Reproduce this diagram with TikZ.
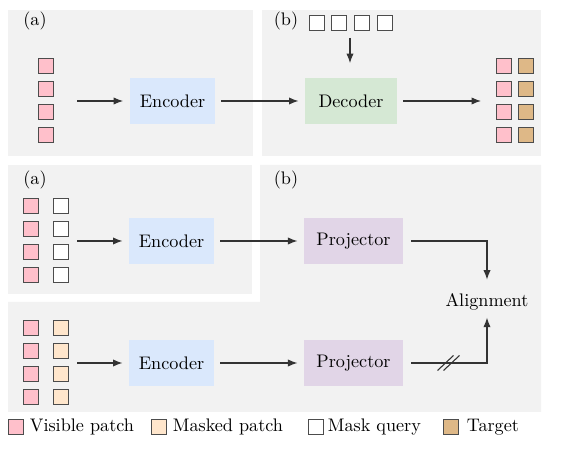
\documentclass[tikz,border=0pt]{standalone}
\usetikzlibrary{arrows.meta,calc}
\definecolor{panelgray}{HTML}{F2F2F2}
\definecolor{pinkc}{HTML}{FFC0CB}
\definecolor{peachc}{HTML}{FFE6CC}
\definecolor{tanc}{HTML}{DEB887}
\definecolor{encc}{HTML}{DAE8FC}
\definecolor{decc}{HTML}{D5E8D4}
\definecolor{projc}{HTML}{E1D5E7}
\begin{document}
\begin{tikzpicture}[x=0.55pt,y=-0.55pt,
  panel/.style={fill=panelgray, draw=none},
  patch/.style={draw=black!70, line width=0.55pt, minimum size=8.25pt, inner sep=0pt, outer sep=0pt},
  vis/.style={patch, fill=pinkc},
  msk/.style={patch, fill=peachc},
  qry/.style={patch, fill=white},
  tgt/.style={patch, fill=tanc},
  block/.style={minimum height=25.3pt, inner sep=0pt, outer sep=0pt},
  enc/.style={block, fill=encc, minimum width=46.75pt},
  dec/.style={block, fill=decc, minimum width=50.6pt},
  proj/.style={block, fill=projc, minimum width=54.5pt},
  arr/.style={-{Latex[length=5.2pt,width=4pt]}, draw=black!80, line width=0.6pt},
  gap/.style={shorten <=3.3pt, shorten >=3.6pt},
  lgd/.style={anchor=base west, inner sep=0pt}]
\useasboundingbox (0,0) rectangle (571,452);
% panels
\fill[panel] (8,10) rectangle (253,156);
\fill[panel] (262,10) rectangle (541,156);
\fill[panel] (8,165) rectangle (252,294);
\fill[panel] (260,165) -- (541,165) -- (541,412) -- (8,412) -- (8,302) -- (260,302) -- cycle;
% labels
\node (la1) at (35,21) {(a)};
\node (lb1) at (286,21) {(b)};
\node (la2) at (35,180) {(a)};
\node (lb2) at (286,180) {(b)};
% top row
\foreach \i in {0,...,3} {
  \node[vis] (ta\i) at (46,{66.5+22.7*\i}) {};
  \node[vis] (tp\i) at (503.5,{66.5+22.7*\i}) {};
  \node[tgt] (tt\i) at (525.5,{66.5+22.7*\i}) {};
  \node[qry] (q\i) at ({316.5+22.7*\i},23.5) {};
}
\node[enc] (enc1) at (172.5,101) {Encoder};
\node[dec] (dec) at (351,101) {Decoder};
\coordinate (s1) at (77,101);
\coordinate (e1) at (481,101);
\coordinate (qs) at (350,38);
\draw[arr, shorten >=3.8pt] (s1) -- (enc1);
\draw[arr, gap] (enc1) -- (dec);
\draw[arr, shorten <=3.3pt] (dec) -- (e1);
\draw[arr, shorten >=8.2pt] (qs) -- (qs |- dec.north);
% middle row
\foreach \i in {0,...,3} {
  \node[vis] (ma\i) at (31,{206.5+22.7*\i}) {};
  \node[qry] (mq\i) at (61,{206.5+22.7*\i}) {};
  \node[vis] (ba\i) at (31,{328.5+22.7*\i}) {};
  \node[msk] (bm\i) at (61,{328.5+22.7*\i}) {};
}
\node[enc] (enc2) at (171.5,241) {Encoder};
\node[proj] (proj1) at (353.5,241) {Projector};
\coordinate (s2) at (77,241);
\draw[arr, shorten >=3.6pt] (s2) -- (enc2);
\draw[arr, gap] (enc2) -- (proj1);
% bottom row
\node[enc] (enc3) at (171.5,363) {Encoder};
\node[proj] (proj2) at (353.5,363) {Projector};
\coordinate (s3) at (77,363);
\draw[arr, shorten >=3.6pt] (s3) -- (enc3);
\draw[arr, gap] (enc3) -- (proj2);
% alignment
\node[anchor=base, inner sep=0pt] (align) at (487,307) {Alignment};
\draw[arr, shorten <=4.4pt, shorten >=7.7pt] (proj1.east) -| (align.north);
\draw[arr, shorten <=4.4pt, shorten >=3.6pt] (proj2.east) -| (align.south);
\coordinate (sl) at (448.5,363);
\draw[black!80, line width=0.6pt] ($(sl)+(-11,7.5)$) -- ($(sl)+(5,-7.5)$);
\draw[black!80, line width=0.6pt] ($(sl)+(-5,7.5)$) -- ($(sl)+(11,-7.5)$);
% legend
\node[vis] (lg1) at (15.5,427.5) {};
\node[lgd] (lt1) at (29.5,432) {Visible patch};
\node[msk] (lg2) at (158.5,427.5) {};
\node[lgd] (lt2) at (172.5,432) {Masked patch};
\node[qry] (lg3) at (315.5,427.5) {};
\node[lgd] (lt3) at (327.5,432) {Mask query};
\node[tgt] (lg4) at (450.5,427.5) {};
\node[lgd] (lt4) at (466.5,432) {Target};
\end{tikzpicture}
\end{document}
